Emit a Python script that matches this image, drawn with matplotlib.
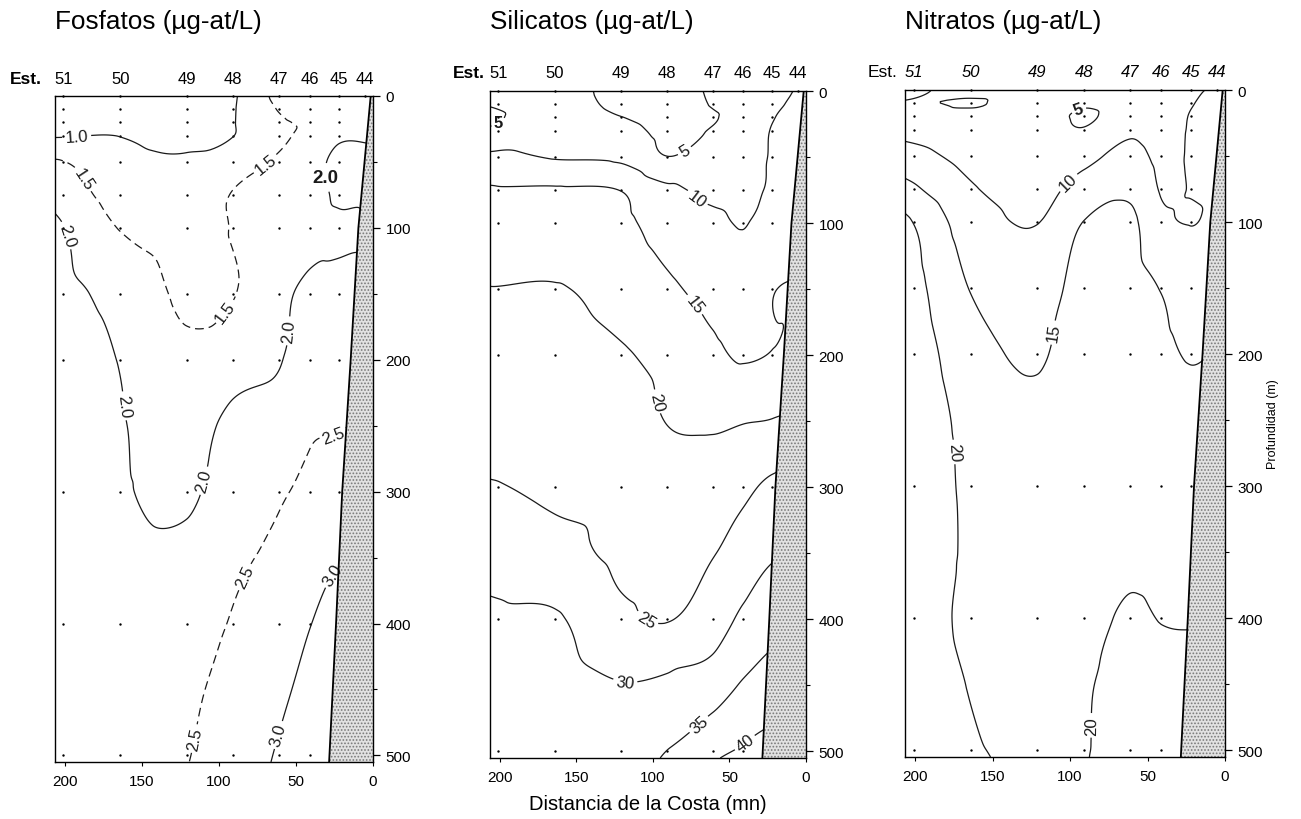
import numpy as np
import matplotlib
matplotlib.use('Agg')
import matplotlib.pyplot as plt
import matplotlib.tri as mtri
from matplotlib.patches import Polygon
from matplotlib.ticker import MultipleLocator

plt.rcParams['font.family'] = ['Liberation Sans', 'DejaVu Sans']
plt.rcParams['hatch.linewidth'] = 0.8

# ---------------- data ----------------
titles = ['Fosfatos (µg-at/L)', 'Silicatos (µg-at/L)', 'Nitratos (µg-at/L)']
xlabel = 'Distancia de la Costa (mn)'
ylabel = 'Profundidad (m)'

station_ids = ['51', '50', '49', '48', '47', '46', '45', '44']
station_dist = [201, 164, 121, 91, 61, 41, 22, 5]
station_maxdepth = [500, 500, 500, 500, 500, 500, 300, 0]
sample_depths = [0, 10, 20, 30, 50, 75, 100, 150, 200, 300, 400, 500]

bottom_depth = [0, 100, 200, 300, 400, 505]
bottom_dist = [1.5, 9.5, 14.5, 20, 24, 28.5]

x_ticks = [200, 150, 100, 50, 0]
y_ticks = [0, 100, 200, 300, 400, 500]

# gridded section values: rows = grid_depth, columns = grid_dist
grid_dist = [207, 164, 121, 91, 61, 41, 22, 0]
grid_depth = [0, 10, 20, 30, 50, 75, 100, 150, 200, 250, 300, 350, 400, 450, 505]

fosfatos = [
    [0.80, 0.85, 0.70, 0.95, 1.60, 1.60, 1.60, 1.60],
    [0.85, 0.85, 0.75, 0.97, 1.52, 1.60, 1.65, 1.65],
    [0.90, 0.90, 0.80, 0.98, 1.45, 1.55, 1.74, 1.74],
    [0.97, 0.99, 0.90, 0.99, 1.42, 1.62, 1.92, 1.92],
    [1.55, 1.15, 1.05, 1.30, 1.56, 1.80, 2.12, 2.12],
    [1.85, 1.30, 1.20, 1.52, 1.70, 1.82, 2.06, 2.05],
    [2.10, 1.48, 1.30, 1.52, 1.80, 1.85, 1.93, 1.95],
    [2.20, 1.85, 1.42, 1.48, 1.90, 2.10, 2.15, 2.20],
    [2.25, 1.98, 1.60, 1.80, 1.97, 2.30, 2.35, 2.40],
    [2.30, 2.03, 1.80, 2.12, 2.20, 2.45, 2.48, 2.55],
    [2.30, 2.05, 1.90, 2.30, 2.45, 2.60, 2.75, 2.80],
    [2.30, 2.15, 2.15, 2.42, 2.60, 2.85, 2.98, 3.02],
    [2.30, 2.25, 2.30, 2.53, 2.75, 2.99, 3.10, 3.10],
    [2.35, 2.30, 2.42, 2.65, 2.92, 3.10, 3.20, 3.20],
    [2.40, 2.35, 2.49, 2.75, 3.05, 3.20, 3.30, 3.30],
]
silicatos = [
    [6.0, 7.0, 3.5, 3.0, 5.5, 6.5, 9.0, 10.5],
    [5.2, 7.0, 4.0, 3.0, 5.2, 6.5, 9.3, 10.8],
    [4.2, 7.5, 5.1, 3.5, 4.7, 6.8, 9.8, 11.0],
    [5.6, 8.0, 6.5, 4.0, 5.3, 7.0, 10.2, 11.0],
    [11.0, 9.7, 9.0, 5.1, 7.5, 8.0, 10.3, 11.5],
    [15.5, 15.5, 14.9, 11.0, 9.0, 9.0, 10.5, 12.0],
    [17.0, 16.5, 16.0, 13.0, 11.0, 9.8, 12.0, 13.0],
    [20.1, 20.3, 18.0, 15.8, 13.5, 12.0, 14.8, 15.5],
    [21.5, 22.0, 20.5, 18.5, 16.0, 14.5, 15.2, 17.0],
    [23.0, 23.0, 22.5, 19.9, 19.3, 19.8, 20.2, 21.0],
    [25.3, 24.2, 23.5, 22.0, 22.6, 24.0, 26.0, 26.5],
    [28.0, 26.5, 24.0, 23.5, 24.8, 27.0, 29.5, 30.0],
    [31.0, 30.5, 26.0, 24.8, 27.5, 31.0, 33.0, 34.0],
    [32.5, 32.0, 30.2, 31.0, 32.5, 35.5, 37.5, 38.0],
    [33.5, 33.0, 32.0, 35.5, 39.5, 41.0, 42.0, 42.0],
]
nitratos = [
    [4.0, 6.0, 6.5, 5.8, 6.0, 7.0, 9.5, 10.3],
    [5.3, 4.7, 6.5, 5.3, 6.5, 7.0, 9.8, 10.6],
    [7.0, 6.0, 6.5, 4.6, 7.0, 7.5, 10.2, 10.8],
    [8.5, 7.0, 7.0, 5.2, 9.0, 8.0, 10.3, 11.0],
    [12.0, 8.5, 7.5, 8.5, 11.5, 9.0, 10.3, 11.0],
    [16.5, 10.5, 8.5, 12.0, 14.0, 9.7, 10.1, 11.0],
    [21.0, 12.5, 9.9, 15.1, 16.0, 10.8, 9.9, 11.2],
    [23.0, 14.8, 12.5, 17.0, 17.0, 14.8, 12.8, 13.5],
    [24.0, 17.0, 14.5, 17.5, 17.5, 16.0, 14.7, 15.5],
    [24.5, 18.5, 16.0, 17.8, 18.0, 17.2, 16.5, 17.0],
    [24.5, 19.0, 17.0, 18.0, 18.5, 18.0, 17.8, 18.0],
    [24.5, 19.2, 17.5, 18.2, 19.2, 18.8, 19.0, 19.2],
    [23.5, 19.0, 18.0, 18.8, 20.5, 19.9, 19.8, 19.8],
    [23.5, 19.8, 18.5, 19.6, 21.5, 21.0, 21.5, 21.5],
    [23.5, 20.5, 19.6, 19.8, 22.5, 22.0, 22.5, 22.5],
]

levels_fos = [1.0, 1.5, 2.0, 2.5, 3.0]
levels_sil = [5, 10, 15, 20, 25, 30, 35, 40]
levels_nit = [5, 10, 15, 20]

# ---------------- layout ----------------
W, H = 1301, 820
fig = plt.figure(figsize=(W / 100, H / 100), dpi=100)
fig.patch.set_facecolor('white')

axes_px = [(55, 97, 318, 666), (490, 92, 316, 667), (905, 91, 320, 667)]
title_left_px = [55, 490, 905]
est_x = [-0.142, -0.117, -0.116]
XSCALE, DSCALE = 1.54, 1.32


def smooth_field(values):
    z = np.array(values, float)
    gx = np.array(grid_dist, float)
    order = np.argsort(gx)
    gx = gx[order]
    z = z[:, order]
    gd = np.array(grid_depth, float)
    GX, GD = np.meshgrid(gx, gd)
    ny, nx = z.shape
    tris = []
    for j in range(ny - 1):
        for i in range(nx - 1):
            a = j * nx + i
            b = a + 1
            c = a + nx
            d = c + 1
            tris.append([a, b, d])
            tris.append([a, d, c])
    tri = mtri.Triangulation(GX.ravel() * XSCALE, GD.ravel() * DSCALE, np.array(tris))
    interp = mtri.CubicTriInterpolator(tri, z.ravel(), kind='geom')
    xf = np.linspace(gx.min() + 0.01, gx.max() - 0.01, 330)
    df = np.linspace(gd.min() + 0.01, gd.max() - 0.01, 460)
    XF, DF = np.meshgrid(xf, df)
    ZF = interp(XF * XSCALE, DF * DSCALE)
    return XF, DF, ZF


def setup_axes(i):
    l, t, w, h = axes_px[i]
    ax = fig.add_axes([l / W, 1 - (t + h) / H, w / W, h / H])
    ax.set_xlim(206.5, 0)
    ax.set_ylim(505, 0)
    ax.yaxis.tick_right()
    ax.set_xticks(x_ticks)
    ax.set_yticks(y_ticks)
    ax.yaxis.set_minor_locator(MultipleLocator(50))
    ax.tick_params(axis='y', which='major', direction='out', length=5, width=0.9,
                   labelsize=11, pad=4)
    ax.tick_params(axis='y', which='minor', direction='out', length=3, width=0.8)
    ax.tick_params(axis='x', direction='out', length=3, width=0.8, labelsize=11, pad=6)
    for s in ax.spines.values():
        s.set_linewidth(1.0)
        s.set_zorder(10)
    # sampling points
    for d, md in zip(station_dist, station_maxdepth):
        ds = [z for z in sample_depths if z <= md]
        ax.scatter([d] * len(ds), ds, s=3, color='black', zorder=2, linewidths=0,
                   clip_on=False)
    # station labels
    style = 'italic' if i == 2 else 'normal'
    for d, sid in zip(station_dist, station_ids):
        ax.text(d, 1.027, sid, transform=ax.get_xaxis_transform(), ha='center',
                va='center', fontsize=12, style=style)
    ax.text(est_x[i], 1.027, 'Est.', transform=ax.transAxes, ha='left', va='center',
            fontsize=12.5, weight='normal' if i == 2 else 'bold')
    # bottom topography
    verts = list(zip(bottom_dist, bottom_depth)) + [(0, 505), (0, 0)]
    poly = Polygon(verts, closed=True, facecolor='#e2e2e2', edgecolor='#7a7a7a',
                   hatch='.....', linewidth=0, zorder=5)
    ax.add_patch(poly)
    ax.plot(bottom_dist, bottom_depth, color='black', lw=1.3, zorder=6)
    fig.text(title_left_px[i] / W, 1 - 22 / H, titles[i], ha='left', va='center',
             fontsize=18.8)
    return ax


def draw(ax, values, levels, styles, fmt, label_pos):
    XF, DF, ZF = smooth_field(values)
    cs = ax.contour(XF, DF, ZF, levels=levels, colors='#1a1a1a', linewidths=0.9,
                    linestyles=styles, zorder=3)
    texts = ax.clabel(cs, levels, fmt=fmt, fontsize=12, inline=True,
                      inline_spacing=3, manual=label_pos)
    return cs, texts


# ---- panel 1: fosfatos
ax1 = setup_axes(0)
lab1 = [(192, 37), (185, 60), (71, 50), (34, 62), (192, 103), (99, 161), (56, 178),
        (162, 235), (112, 291), (26, 257), (79, 367), (28, 362), (117, 487), (60, 485)]
cs1, t1 = draw(ax1, fosfatos, levels_fos,
               ['solid', (0, (7, 4)), 'solid', (0, (7, 4)), 'solid'], '%.1f', lab1)
if len(t1) > 3:
    t1[3].set_fontweight('bold')
    t1[3].set_fontsize(13.5)
    t1[3].set_rotation(0)

# ---- panel 2: silicatos
ax2 = setup_axes(1)
lab2 = [(198, 30), (79, 46), (69, 79), (74, 163), (97, 235), (103, 398), (118, 445),
        (75, 473), (43, 489)]
cs2, t2 = draw(ax2, silicatos, levels_sil, 'solid', '%d', lab2)
if len(t2) > 0:
    t2[0].set_rotation(0)
    t2[0].set_fontweight('bold')

# ---- panel 3: nitratos
ax3 = setup_axes(2)
lab3 = [(94, 16), (102, 69), (108, 184), (174, 274), (89, 481)]
cs3, t3 = draw(ax3, nitratos, levels_nit, 'solid', '%d', lab3)
if len(t3) > 0:
    t3[0].set_rotation(20)
    t3[0].set_fontweight('bold')
ax3.text(1.15, 0.5, ylabel, transform=ax3.transAxes, rotation=90, ha='center',
         va='center', fontsize=9)

fig.text(648 / W, 1 - 805 / H, xlabel, ha='center', va='center', fontsize=14.5)

fig.savefig('out.png', dpi=100, facecolor='white')
